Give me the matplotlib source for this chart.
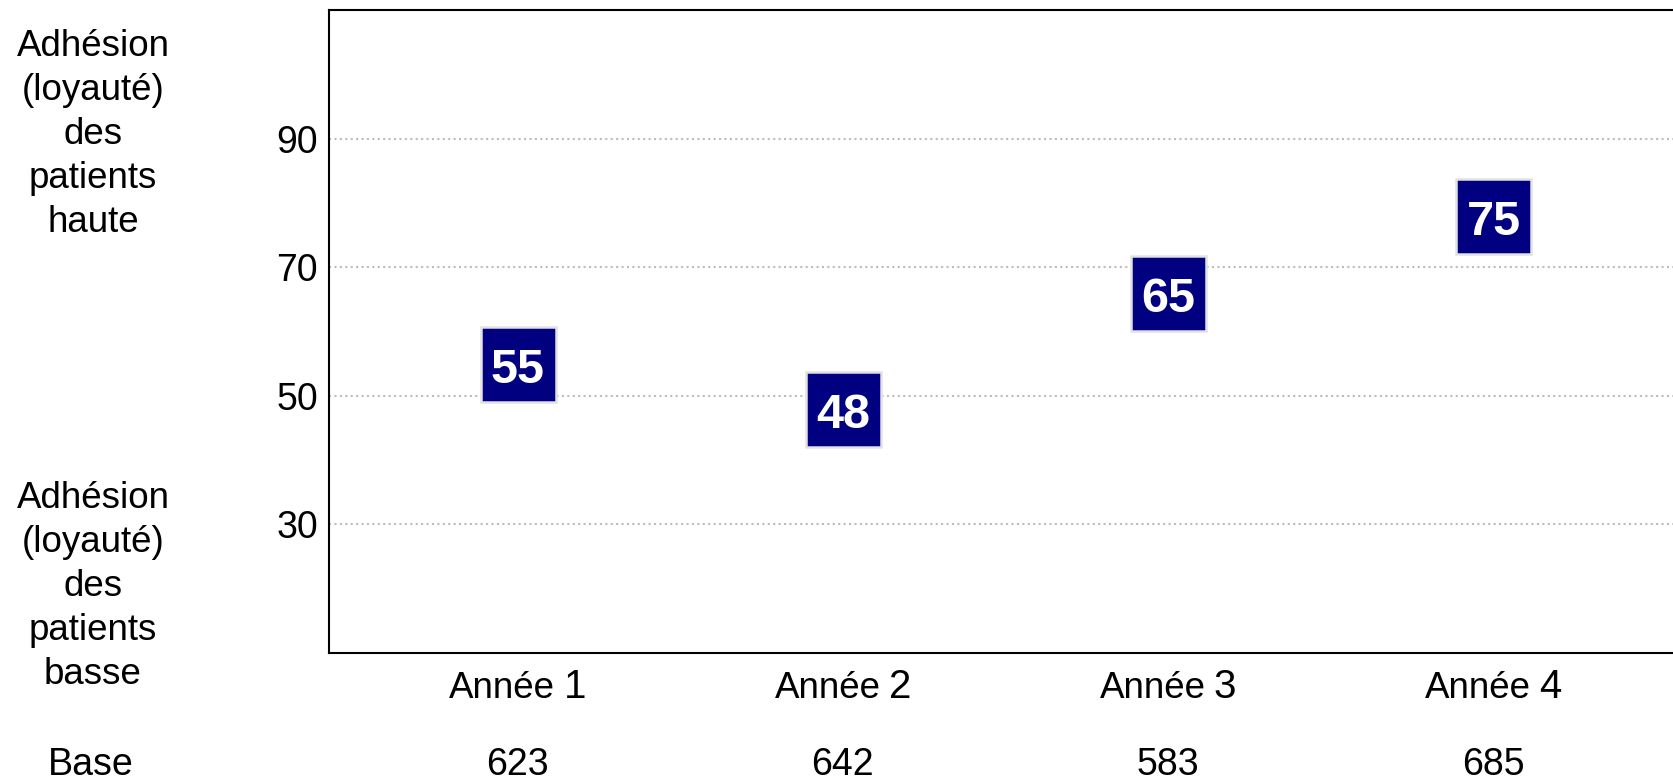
import matplotlib
matplotlib.use("Agg")
import matplotlib.pyplot as plt

# chart data
years = ["1", "2", "3", "4"]
positions = [55, 48, 66, 78]      # where the boxes sit on the scale
box_labels = ["55", "48", "65", "75"]  # text printed in the boxes
base_counts = ["623", "642", "583", "685"]
yticks = [30, 50, 70, 90]
label_high = "Adhésion\n(loyauté)\ndes\npatients\nhaute"
label_low = "Adhésion\n(loyauté)\ndes\npatients\nbasse"

plt.rcParams['font.family'] = ['Liberation Sans', 'DejaVu Sans']

W, H = 1674, 781
fig = plt.figure(figsize=(W / 100, H / 100), dpi=100)
ax = fig.add_axes([329 / W, 1 - 653 / H, (W - 329) / W, (653 - 10) / H])

x = list(range(1, len(years) + 1))
navy = "#000080"

ax.plot(x, positions, linestyle="none", marker="s", markersize=54,
        markerfacecolor=navy, markeredgecolor="#e2e2e2", markeredgewidth=1.8,
        zorder=3)
for xi, yi, lab in zip(x, positions, box_labels):
    ax.annotate(lab, xy=(xi, yi), xytext=(0, -7), textcoords="offset pixels",
                ha="center", va="center", color="white",
                fontsize=35, fontweight="bold", zorder=4)

ax.set_xlim(0.42, 4.555)
ax.set_ylim(10, 110)
ax.set_yticks(yticks)
ax.set_yticklabels([str(v) for v in yticks], fontsize=27)
ax.set_xticks([])
ax.tick_params(axis="y", length=0, pad=8)
ax.yaxis.grid(True, color="#bcbcbc", linestyle=(0, (1, 1.6)), linewidth=1.5)
ax.set_axisbelow(True)

for s in ["left", "top", "bottom"]:
    ax.spines[s].set_linewidth(1.5)
    ax.spines[s].set_color("black")
ax.spines["right"].set_visible(False)

# category labels: "Année" smaller, number larger
r = fig.canvas.get_renderer()
y_lab = 1 - 698 / H
gap = 8
for xi, n in zip(x, years):
    t1 = ax.annotate("Année", xy=(xi, y_lab), xycoords=("data", "figure fraction"),
                     textcoords="offset pixels", xytext=(0, 0),
                     ha="left", va="baseline", fontsize=26.5, annotation_clip=False)
    t2 = ax.annotate(n, xy=(xi, y_lab), xycoords=("data", "figure fraction"),
                     textcoords="offset pixels", xytext=(0, 0),
                     ha="left", va="baseline", fontsize=29, annotation_clip=False)
    w1 = t1.get_window_extent(r).width
    w2 = t2.get_window_extent(r).width
    start = -(w1 + gap + w2) / 2
    t1.xyann = (start, 0)
    t2.xyann = (start + w1 + gap, 0)

# base row
y_base = 1 - 775 / H
for xi, b in zip(x, base_counts):
    ax.annotate(b, xy=(xi, y_base), xycoords=("data", "figure fraction"),
                ha="center", va="baseline", fontsize=27, annotation_clip=False)
fig.text(91 / W, y_base, "Base", ha="center", va="baseline", fontsize=27)

fig.text(93 / W, 1 - 134.5 / H, label_high, ha="center", va="center",
         fontsize=26.5, linespacing=1.33)
fig.text(93 / W, 1 - 586.5 / H, label_low, ha="center", va="center",
         fontsize=26.5, linespacing=1.33)

fig.savefig("out.png", dpi=100)
